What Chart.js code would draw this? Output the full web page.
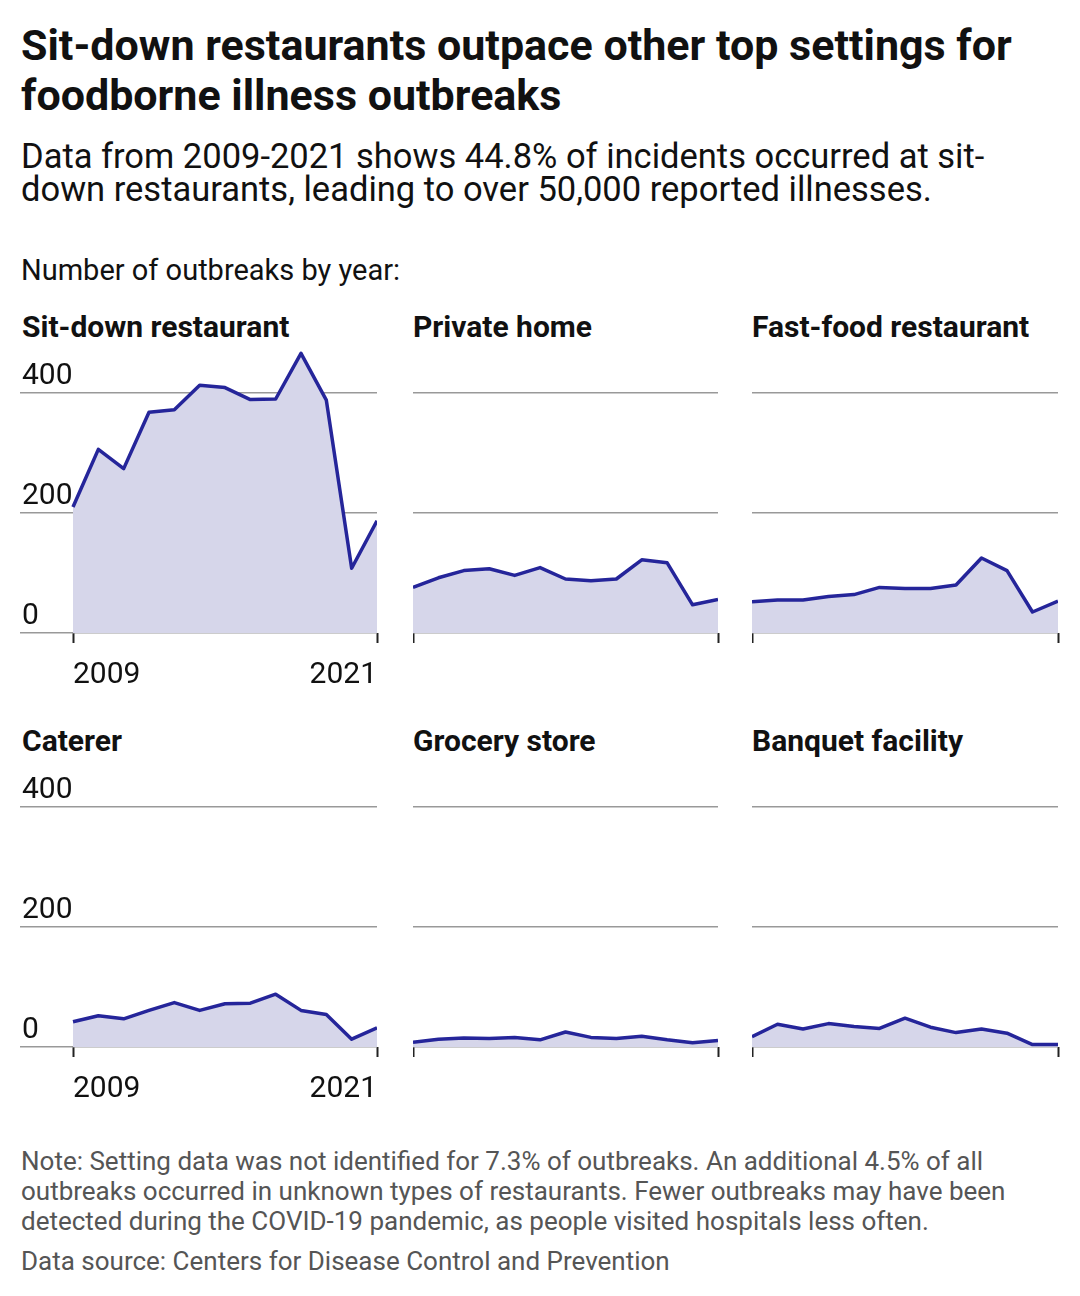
<!DOCTYPE html>
<html lang="en">
<head>
    <meta charset="UTF-8">
    <title>Foodborne illness outbreaks by setting</title>
    <script src="https://cdn.jsdelivr.net/npm/chart.js"></script>
    <style>
        body {
            margin: 0;
            width: 1080px;
            height: 1296px;
            background: #fff;
            font-family: Roboto, "Noto Sans", sans-serif;
            color: #111;
            position: relative;
            overflow: hidden;
        }
        h1 {
            position: absolute;
            left: 21px;
            top: 20px;
            margin: 0;
            font-size: 43px;
            line-height: 50px;
            font-weight: 700;
            width: 1045px;
        }
        .sub {
            position: absolute;
            left: 21px;
            top: 140px;
            margin: 0;
            font-size: 34.5px;
            line-height: 33px;
            width: 1030px;
        }
        .lead {
            position: absolute;
            left: 21px;
            top: 253px;
            font-size: 29px;
        }
        .ptitle {
            position: absolute;
            font-size: 30px;
            font-weight: 700;
        }
        .panel {
            position: absolute;
        }
        .note {
            position: absolute;
            left: 21px;
            top: 1146px;
            font-size: 26px;
            line-height: 30px;
            color: #555;
            width: 1030px;
        }
        .source {
            position: absolute;
            left: 21px;
            top: 1246px;
            font-size: 26px;
            color: #555;
        }
    </style>
</head>
<body>
    <h1>Sit-down restaurants outpace other top settings for foodborne illness outbreaks</h1>
    <p class="sub">Data from 2009-2021 shows 44.8% of incidents occurred at sit-down restaurants, leading to over 50,000 reported illnesses.</p>
    <div class="lead">Number of outbreaks by year:</div>

    <div id="panels"></div>

    <div class="note">Note: Setting data was not identified for 7.3% of outbreaks. An additional 4.5% of all outbreaks occurred in unknown types of restaurants. Fewer outbreaks may have been detected during the COVID-19 pandemic, as people visited hospitals less often.</div>
    <div class="source">Data source: Centers for Disease Control and Prevention</div>

    <script>
        // datos
        var years = [2009, 2010, 2011, 2012, 2013, 2014, 2015, 2016, 2017, 2018, 2019, 2020, 2021];
        var settings = ['Sit-down restaurant', 'Private home', 'Fast-food restaurant', 'Caterer', 'Grocery store', 'Banquet facility'];
        var sitDown   = [210, 306, 274, 368, 372, 413, 409, 389, 390, 466, 388, 108, 187];
        var privHome  = [76, 92, 104, 107, 96, 109, 90, 87, 90, 122, 117, 47, 56];
        var fastFood  = [52, 55, 55, 61, 64, 76, 74, 74, 80, 125, 104, 35, 53];
        var caterer   = [42, 52, 47, 61, 74, 61, 72, 73, 88, 61, 54, 13, 32];
        var grocery   = [8, 13, 15, 14, 16, 12, 25, 16, 14, 18, 12, 7, 11];
        var banquet   = [17, 38, 30, 39, 34, 31, 48, 33, 24, 30, 23, 4, 4];
        var yTicks = [0, 200, 400];
        var xTicks = [2009, 2021];

        var seriesList = [sitDown, privHome, fastFood, caterer, grocery, banquet];

        var lineColor = '#25259a';
        var fillColor = '#d6d6ea';
        var gridColor = '#999999';

        // columnas: inicio de la rejilla, inicio de los datos, fin
        var cols = [
            { grid: 20, data: 73, end: 377 },
            { grid: 413, data: 413, end: 718 },
            { grid: 752, data: 752, end: 1058 }
        ];
        var rowTop = [340, 754];
        var padTop = 5;
        var plotH = 288;
        var axisH = 60;
        var yMax = 480;

        var container = document.getElementById('panels');

        settings.forEach(function (name, i) {
            var col = cols[i % 3];
            var row = Math.floor(i / 3);
            var first = (i % 3 === 0);

            var title = document.createElement('div');
            title.className = 'ptitle';
            title.textContent = name;
            title.style.left = (col.data === col.grid ? col.grid : col.grid + 2) + 'px';
            title.style.top = (rowTop[row] - 31.5) + 'px';
            container.appendChild(title);

            var w = col.end - col.grid + 6;
            var h = padTop + plotH + axisH;
            var box = document.createElement('div');
            box.className = 'panel';
            box.style.left = col.grid + 'px';
            box.style.top = rowTop[row] + 'px';
            box.style.width = w + 'px';
            box.style.height = h + 'px';
            var cv = document.createElement('canvas');
            box.appendChild(cv);
            container.appendChild(box);

            // ampliar el eje x a la izquierda en la primera columna
            var pxPerYear = (col.end - col.data) / (years.length - 1);
            var xMin = 2009 - (col.data - col.grid) / pxPerYear;

            new Chart(cv.getContext('2d'), {
                type: 'line',
                data: {
                    datasets: [{
                        data: years.map(function (y, k) { return { x: y, y: seriesList[i][k] }; }),
                        borderColor: lineColor,
                        backgroundColor: fillColor,
                        borderWidth: 3.5,
                        pointRadius: 0,
                        tension: 0,
                        fill: 'origin',
                        borderJoinStyle: 'round'
                    }]
                },
                options: {
                    responsive: true,
                    maintainAspectRatio: false,
                    animation: false,
                    layout: { padding: { top: padTop, right: 6, left: 0, bottom: 0 } },
                    plugins: { legend: { display: false }, tooltip: { enabled: false } },
                    scales: {
                        x: {
                            type: 'linear',
                            min: xMin,
                            max: 2021,
                            afterBuildTicks: function (scale) {
                                scale.ticks = xTicks.map(function (v) { return { value: v }; });
                            },
                            afterFit: function (scale) {
                                scale.height = axisH;
                                scale.paddingLeft = 0;
                                scale.paddingRight = 0;
                            },
                            border: { display: false },
                            grid: {
                                drawOnChartArea: false,
                                drawTicks: true,
                                tickLength: 10,
                                tickWidth: 2,
                                tickColor: '#222',
                                color: '#222'
                            },
                            ticks: {
                                display: first,
                                align: 'inner',
                                padding: 14,
                                color: '#111',
                                font: { family: 'Roboto', size: 30 },
                                callback: function (v) { return String(v); }
                            }
                        },
                        y: {
                            min: 0,
                            max: yMax,
                            afterBuildTicks: function (scale) {
                                scale.ticks = yTicks.map(function (v) { return { value: v }; });
                            },
                            afterFit: function (scale) {
                                scale.width = 0;
                                scale.paddingTop = 0;
                                scale.paddingBottom = 0;
                            },
                            border: { display: false },
                            grid: {
                                color: gridColor,
                                lineWidth: 1.6,
                                drawTicks: false
                            },
                            ticks: {
                                display: first,
                                mirror: true,
                                padding: 2,
                                labelOffset: -17,
                                color: '#111',
                                font: { family: 'Roboto', size: 30 }
                            }
                        }
                    }
                }
            });
        });
    </script>
</body>
</html>
